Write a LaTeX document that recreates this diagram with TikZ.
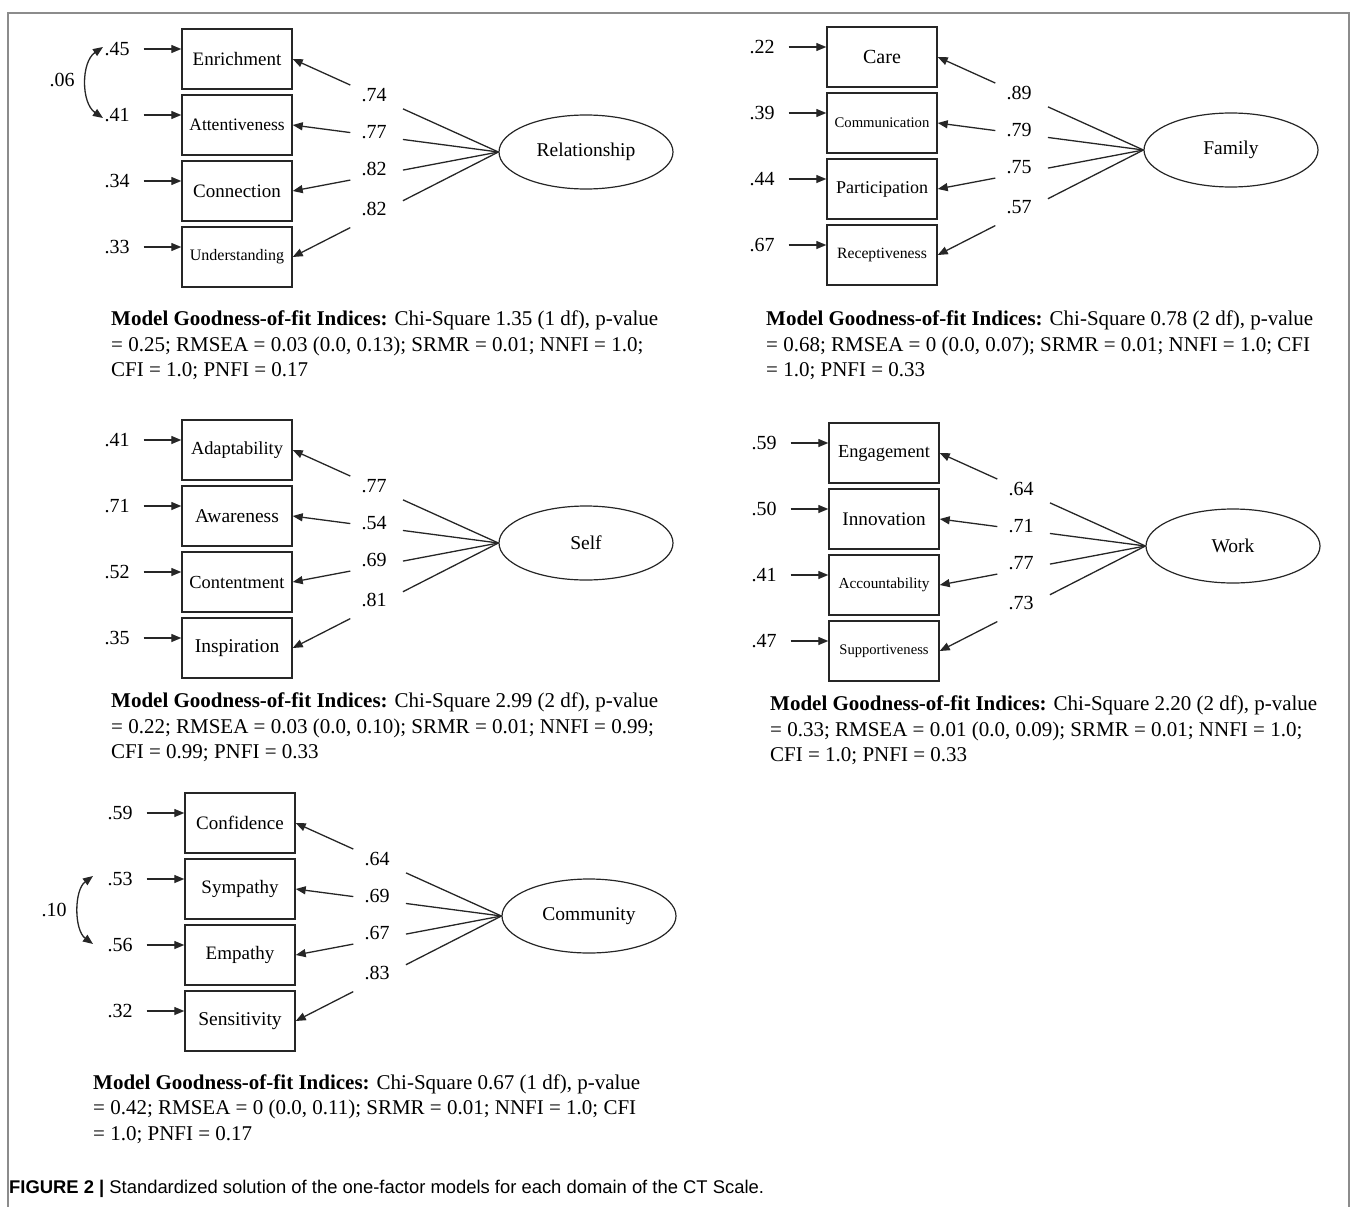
\documentclass[tikz,border=0pt]{standalone}
\usepackage{fontspec}
\setmainfont{Liberation Serif}
\newfontfamily\capfont{Liberation Sans}
\usetikzlibrary{shapes.geometric,arrows.meta,calc}

\tikzset{
  x=1pt, y=1pt,
  ind/.style={draw=black!85, line width=1.4pt, minimum width=110pt, minimum height=60pt, inner sep=0pt},
  latent/.style={ellipse, draw=black!85, line width=1.2pt, minimum width=174pt, minimum height=74pt,
                 inner sep=0pt, font=\fontsize{19.5}{20}\selectfont},
  num/.style={inner sep=0pt, font=\fontsize{20}{20}\selectfont},
  ln/.style={draw=black!85, line width=1.3pt},
  tip/.style={},
  arr/.style={ln, -{Triangle[length=10pt,width=8pt]}},
  cov/.style={ln, {Triangle[length=10pt,width=8pt]}-{Triangle[length=10pt,width=8pt]}},
  gof/.style={anchor=north west, inner sep=0pt, align=left, font=\fontsize{21}{25.5}\selectfont},
  frame/.style={draw=black!45, line width=1.8pt}
}

% One-factor measurement model: #1 name prefix, #2 top-left corner of the first indicator,
% #3 factor name, #4 list of indicator/error/loading/font size
\newcommand\cfamodel[4]{%
\begin{scope}[shift={#2}]
  \node[latent] (#1f) at (404,-123) {#3};
  \foreach \lab/\err/\ld/\fsz [count=\i from 0] in {#4} {
    \node[ind, font=\fontsize{\fsz}{\fsz}\selectfont] (#1b\i) at (55,{-30-66*\i}) {\lab};
    \node[num] (#1e\i) at (-65,{-20-66*\i}) {\err};
    \draw[arr] ([xshift=14pt]#1e\i.east) -- (#1e\i.east -| #1b\i.west);
    \draw[ln] (#1f.west) -- ($(#1f.west)!0.464!(#1b\i.east)$);
    \draw[arr] ($(#1f.west)!0.72!(#1b\i.east)$) -- (#1b\i.east);
    \node[num] (#1l\i) at ($(#1f.west)!0.604!(#1b\i.east)+(0,{ifthenelse(\i==3,6.4,1+2.8*\i)})$) {\ld};
  }
\end{scope}}

\begin{document}
\begin{tikzpicture}
\useasboundingbox (0,0) rectangle (1357,-1207);

% outer frame, open at the bottom
\draw[frame] (8,-1207) -- (8,-13) -- (1349,-13) -- (1349,-1207);

% Relationship
\cfamodel{r}{(182,-29)}{Relationship}{Enrichment/.45/.74/19, Attentiveness/.41/.77/17.5,
  Connection/.34/.82/19, Understanding/.33/.82/16}
\coordinate (r0c) at (103,-47);
\coordinate (r1c) at (103,-118);
\draw[cov] (r0c) .. controls (81,-62) and (81,-103) .. (r1c);
\node[num] (rcv) at (62,-80) {.06};
\node[gof] (rg) at (111,-311) {\textbf{Model Goodness-of-fit Indices:} Chi-Square 1.35 (1 df), p-value\\
  = 0.25; RMSEA = 0.03 (0.0, 0.13); SRMR = 0.01; NNFI = 1.0;\\
  CFI = 1.0; PNFI = 0.17};

% Family
\cfamodel{a}{(827,-27)}{Family}{Care/.22/.89/20, Communication/.39/.79/14.7,
  Participation/.44/.75/18, Receptiveness/.67/.57/15.7}
\node[gof] (ag) at (766,-311) {\textbf{Model Goodness-of-fit Indices:} Chi-Square 0.78 (2 df), p-value\\
  = 0.68; RMSEA = 0 (0.0, 0.07); SRMR = 0.01; NNFI = 1.0; CFI\\
  = 1.0; PNFI = 0.33};

% Self
\cfamodel{s}{(182,-420)}{Self}{Adaptability/.41/.77/18.4, Awareness/.71/.54/19.5,
  Contentment/.52/.69/18.4, Inspiration/.35/.81/19.5}
\node[gof] (sg) at (111,-693) {\textbf{Model Goodness-of-fit Indices:} Chi-Square 2.99 (2 df), p-value\\
  = 0.22; RMSEA = 0.03 (0.0, 0.10); SRMR = 0.01; NNFI = 0.99;\\
  CFI = 0.99; PNFI = 0.33};

% Work
\cfamodel{w}{(829,-423)}{Work}{Engagement/.59/.64/18.4, Innovation/.50/.71/19.2,
  Accountability/.41/.77/15.3, Supportiveness/.47/.73/14.6}
\node[gof] (wg) at (770,-696) {\textbf{Model Goodness-of-fit Indices:} Chi-Square 2.20 (2 df), p-value\\
  = 0.33; RMSEA = 0.01 (0.0, 0.09); SRMR = 0.01; NNFI = 1.0;\\
  CFI = 1.0; PNFI = 0.33};

% Community
\cfamodel{c}{(185,-793)}{Community}{Confidence/.59/.64/19, Sympathy/.53/.69/19,
  Empathy/.56/.67/19, Sensitivity/.32/.83/19.5}
\coordinate (c1c) at (93,-876);
\coordinate (c2c) at (93,-944);
\draw[cov] (c1c) .. controls (74,-890) and (74,-930) .. (c2c);
\node[num] (ccv) at (54,-910) {.10};
\node[gof] (cg) at (93,-1074) {\textbf{Model Goodness-of-fit Indices:} Chi-Square 0.67 (1 df), p-value\\
  = 0.42; RMSEA = 0 (0.0, 0.11); SRMR = 0.01; NNFI = 1.0; CFI\\
  = 1.0; PNFI = 0.17};

% caption
\node[anchor=base west, inner sep=0pt, font=\capfont\fontsize{18.4}{18.4}\selectfont] (cap) at (9,-1193)
  {\textbf{FIGURE 2 |} Standardized solution of the one-factor models for each domain of the CT Scale.};
\end{tikzpicture}
\end{document}
